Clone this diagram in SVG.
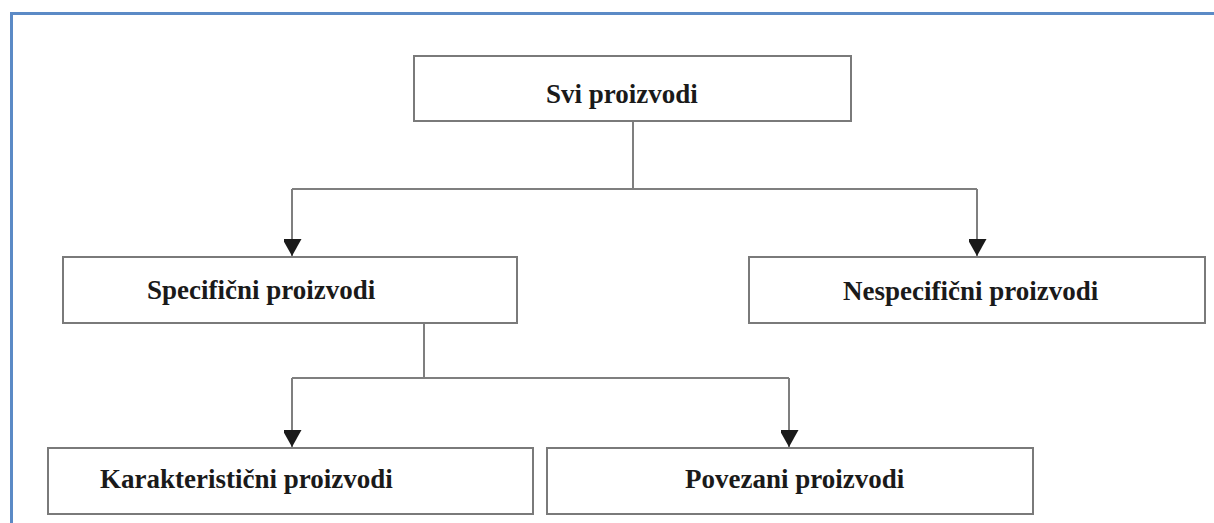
<svg xmlns="http://www.w3.org/2000/svg" width="1214" height="523" viewBox="0 0 1214 523">
  <style>
    .box { fill: #ffffff; stroke: #7a7a7a; stroke-width: 2; }
    .lbl { font-family: "Liberation Serif", "Times New Roman", serif; font-weight: bold; font-size: 27px; fill: #1a1a1a; }
    .conn { fill: none; stroke: #7f7f7f; stroke-width: 2; }
  </style>
  <defs>
    <marker id="arrow" markerUnits="userSpaceOnUse" markerWidth="20" markerHeight="18" refX="17" refY="9.5" orient="auto">
      <path d="M0,0 L17,9.5 L0,19 Z" fill="#1a1a1a"/>
    </marker>
  </defs>
  <rect x="11.5" y="13.5" width="1230" height="530" fill="#ffffff" stroke="#5b8ac6" stroke-width="3"/>

  <g id="connectors">
    <path class="conn" d="M633 121 V189"/>
    <path class="conn" d="M292 189 H977"/>
    <path class="conn" d="M292 189 V256" marker-end="url(#arrow)"/>
    <path class="conn" d="M977 189 V256" marker-end="url(#arrow)"/>
    <path class="conn" d="M424 323 V378"/>
    <path class="conn" d="M292 378 H789"/>
    <path class="conn" d="M292 378 V447" marker-end="url(#arrow)"/>
    <path class="conn" d="M789 378 V447" marker-end="url(#arrow)"/>
  </g>

  <g id="node-svi">
    <rect class="box" x="414" y="56" width="437" height="65"/>
    <text class="lbl" x="546" y="103">Svi proizvodi</text>
  </g>
  <g id="node-specificni">
    <rect class="box" x="63" y="257" width="454" height="66"/>
    <text class="lbl" x="147" y="299">Specifični proizvodi</text>
  </g>
  <g id="node-nespecificni">
    <rect class="box" x="749" y="257" width="456" height="66"/>
    <text class="lbl" x="843" y="300">Nespecifični proizvodi</text>
  </g>
  <g id="node-karakteristicni">
    <rect class="box" x="48" y="448" width="485" height="66"/>
    <text class="lbl" x="100" y="488">Karakteristični proizvodi</text>
  </g>
  <g id="node-povezani">
    <rect class="box" x="547" y="448" width="486" height="66"/>
    <text class="lbl" x="685" y="488">Povezani proizvodi</text>
  </g>
</svg>
